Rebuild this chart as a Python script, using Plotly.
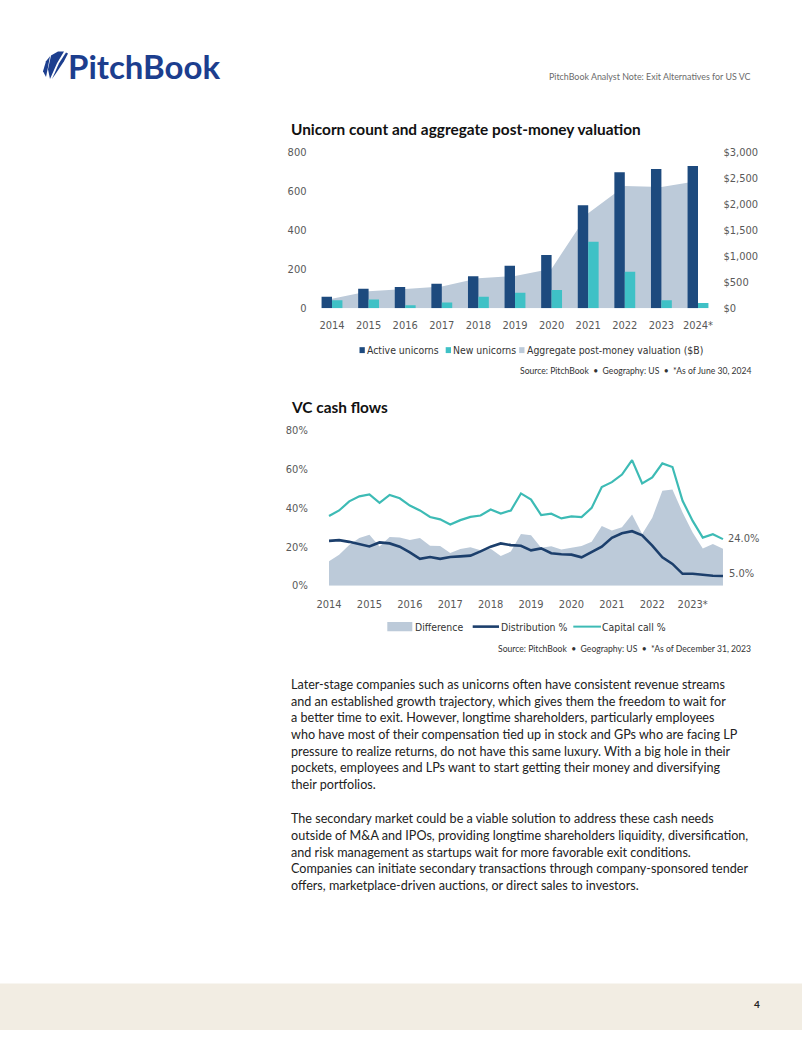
import plotly.graph_objects as go

W, H = 802, 1037

# ---------------- data ----------------
years = ['2014', '2015', '2016', '2017', '2018', '2019', '2020', '2021', '2022', '2023', '2024*']
active_unicorns = [59, 100, 108, 125, 164, 218, 272, 528, 697, 714, 729]
new_unicorns = [40, 44, 15, 29, 59, 79, 93, 341, 187, 40, 27]
valuation_b = [180, 323, 367, 418, 575, 620, 759, 1823, 2348, 2329, 2443]

left_ticks = [0, 200, 400, 600, 800]
right_ticks = [0, 500, 1000, 1500, 2000, 2500, 3000]
right_tick_text = ['$0', '$500', '$1,000', '$1,500', '$2,000', '$2,500', '$3,000']

quarters = list(range(40))  # 2014 Q1 .. 2023 Q4
capital_call = [35.9, 38.8, 43.5, 46.1, 47.1, 42.7, 46.8, 45.1, 41.3, 38.8,
                35.4, 34.2, 31.5, 33.8, 35.5, 36.2, 39.3, 37.2, 38.8, 47.6,
                44.4, 36.4, 37.1, 34.7, 35.7, 35.4, 40.1, 50.9, 53.4, 57.3,
                64.8, 52.7, 55.8, 63.1, 61.2, 43.8, 33.4, 24.8, 26.5, 24.0]
distribution = [23.1, 23.5, 22.6, 21.4, 20.2, 22.3, 21.8, 20.1, 17.2, 13.8,
                14.8, 13.8, 14.8, 15.1, 15.5, 17.7, 20.1, 21.8, 20.9, 20.6,
                18.2, 19.2, 16.7, 16.2, 16.0, 14.6, 17.5, 20.1, 24.7, 27.0,
                28.1, 26.0, 20.6, 14.6, 11.2, 6.1, 6.1, 5.6, 5.1, 5.0]
difference = [12.6, 16.0, 21.0, 24.6, 26.2, 20.2, 25.1, 24.8, 23.5, 24.6,
              20.6, 20.4, 16.8, 18.9, 19.8, 18.3, 19.0, 15.3, 17.6, 26.6,
              26.0, 19.5, 20.3, 18.6, 19.5, 20.5, 22.6, 30.8, 28.5, 30.1,
              36.7, 26.6, 35.0, 49.0, 49.6, 37.8, 27.4, 19.2, 21.5, 19.0]
cf_tick_vals = [0, 4, 8, 12, 16, 20, 24, 28, 32, 36]
cf_tick_text = ['2014', '2015', '2016', '2017', '2018', '2019', '2020', '2021', '2022', '2023*']
cf_y_ticks = [0, 20, 40, 60, 80]
cf_y_text = ['0%', '20%', '40%', '60%', '80%']

# ---------------- style ----------------
NAVY = '#1d4a7e'
TEAL = '#3fc1c6'
AREA = '#bccad9'
DIST = '#1c3f6c'
CCALL = '#3dbbb5'
GRAY = '#595959'
CHART_FONT = 'DejaVu Sans Condensed, Roboto, sans-serif'
TEXT_FONT = 'Lato, Open Sans, sans-serif'
CF = 11
LF = 10.4


def px(x):
    return x / W


def py(y):
    return 1 - y / H


fig = go.Figure()

# chart 1: area on primary (right) axis, bars on overlaying left axis
fig.add_trace(go.Scatter(x=years, y=valuation_b, mode='lines', line=dict(width=0, color=AREA),
                         fill='tozeroy', fillcolor=AREA, xaxis='x', yaxis='y',
                         name='Aggregate post-money valuation ($B)', hoverinfo='skip'))
fig.add_trace(go.Bar(x=years, y=active_unicorns, marker=dict(color=NAVY, line=dict(width=0)),
                     xaxis='x', yaxis='y2', name='Active unicorns'))
fig.add_trace(go.Bar(x=years, y=new_unicorns, marker=dict(color=TEAL, line=dict(width=0)),
                     xaxis='x', yaxis='y2', name='New unicorns'))

# chart 2
fig.add_trace(go.Scatter(x=quarters, y=difference, mode='lines', line=dict(width=0, color=AREA),
                         fill='tozeroy', fillcolor=AREA, xaxis='x2', yaxis='y3', name='Difference'))
fig.add_trace(go.Scatter(x=quarters, y=distribution, mode='lines', line=dict(width=2.6, color=DIST),
                         xaxis='x2', yaxis='y3', name='Distribution %'))
fig.add_trace(go.Scatter(x=quarters, y=capital_call, mode='lines', line=dict(width=2.2, color=CCALL),
                         xaxis='x2', yaxis='y3', name='Capital call %'))

tickfont = dict(family=CHART_FONT, size=CF, color=GRAY)

fig.update_layout(
    width=W, height=H, margin=dict(l=0, r=0, t=0, b=0),
    paper_bgcolor='white', plot_bgcolor='rgba(0,0,0,0)',
    showlegend=False, barmode='group', bargap=0.43, bargroupgap=0,
    xaxis=dict(domain=[px(313.7), px(716.3)], anchor='y', type='category',
               range=[-0.5, 10.5], showgrid=False, zeroline=False, showline=False,
               ticks='outside', ticklen=7, tickcolor='rgba(0,0,0,0)', tickfont=tickfont),
    yaxis=dict(domain=[py(306), py(148)], anchor='x', side='right', range=[0, 3000],
               tickvals=right_ticks, ticktext=right_tick_text, showgrid=False, zeroline=False,
               showline=False, ticks='outside', ticklen=4, tickcolor='rgba(0,0,0,0)', tickfont=tickfont),
    yaxis2=dict(overlaying='y', anchor='x', side='left', range=[0, 800], tickvals=left_ticks,
                showgrid=False, zeroline=False, showline=False, ticks='outside', ticklen=4,
                tickcolor='rgba(0,0,0,0)', tickfont=tickfont),
    xaxis2=dict(domain=[px(316), px(726)], anchor='y3', range=[-1.29, 39.3],
                tickvals=cf_tick_vals, ticktext=cf_tick_text, showgrid=False, zeroline=False,
                showline=False, ticks='outside', ticklen=8, tickcolor='rgba(0,0,0,0)', tickfont=tickfont),
    yaxis3=dict(domain=[py(587), py(430)], anchor='x2', range=[0, 80], tickvals=cf_y_ticks,
                ticktext=cf_y_text, showgrid=False, zeroline=False, showline=False,
                ticks='outside', ticklen=5, tickcolor='rgba(0,0,0,0)', tickfont=tickfont),
)

ann = []
shapes = []


def text(x, y, s, size, color='#222', family=TEXT_FONT, xanchor='left', weight=None):
    f = dict(family=family, size=size, color=color)
    if weight:
        f['weight'] = weight
    ann.append(dict(x=px(x), y=py(y), xref='paper', yref='paper', text=s, showarrow=False,
                    xanchor=xanchor, yanchor='middle', font=f, align=xanchor))


# header
text(753, 71, 'PitchBook Analyst Note: Exit Alternatives for US VC', 8.9, '#6b6b6b', xanchor='right')
text(66, 61, 'PitchBook', 33, '#1c3e8e', weight=700)


# logo icon (sails)
def path_px(points):
    return 'M ' + ' L '.join(f'{px(a):.5f},{py(b):.5f}' for a, b in points) + ' Z'


logo_color = '#1c3e8e'
shapes.append(dict(type='path', xref='paper', yref='paper', line=dict(width=0), fillcolor=logo_color,
                   path=path_px([(51, 50), (58, 46), (64, 46), (57, 58), (50, 74), (48, 64)])))
shapes.append(dict(type='path', xref='paper', yref='paper', line=dict(width=0), fillcolor=logo_color,
                   path=path_px([(43, 66), (46, 56), (50, 51), (48, 62), (46, 72)])))
shapes.append(dict(type='path', xref='paper', yref='paper', line=dict(width=0), fillcolor=logo_color,
                   path=path_px([(59, 58), (66, 47), (68, 48), (64, 56), (56, 68), (52, 74)])))

# chart 1 title
text(289, 125, 'Unicorn count and aggregate post-money valuation', 15.4, '#111', weight=700)

# chart 1 legend
leg_y = 348.5
for (sx, col, label) in [(359.5, NAVY, 'Active unicorns'), (445.7, TEAL, 'New unicorns'),
                         (519.2, AREA, 'Aggregate post-money valuation ($B)')]:
    shapes.append(dict(type='rect', xref='paper', yref='paper', x0=px(sx), x1=px(sx + 5.3),
                       y0=py(leg_y + 3), y1=py(leg_y - 3), fillcolor=col, line=dict(width=0)))
    text(sx + 5.3, leg_y, label, LF, '#333', family=CHART_FONT)

text(753, 370, 'Source: PitchBook  \u2022  Geography: US  \u2022  *As of June 30, 2024', 8.6, '#333', xanchor='right')

# chart 2 title
text(289, 406, 'VC cash flows', 15.4, '#111', weight=700)

# end labels
text(726, 539, '24.0%', CF, GRAY, family=CHART_FONT)
text(727, 575, '5.0%', CF, GRAY, family=CHART_FONT)

# chart 2 legend
leg2_y = 628.5
shapes.append(dict(type='rect', xref='paper', yref='paper', x0=px(387.3), x1=px(412.3),
                   y0=py(leg2_y + 4.7), y1=py(leg2_y - 4.7), fillcolor=AREA, line=dict(width=0)))
text(413.5, leg2_y, 'Difference', LF, '#333', family=CHART_FONT)
shapes.append(dict(type='line', xref='paper', yref='paper', x0=px(472.7), x1=px(499),
                   y0=py(leg2_y), y1=py(leg2_y), line=dict(color=DIST, width=2.6)))
text(498.5, leg2_y, 'Distribution %', LF, '#333', family=CHART_FONT)
shapes.append(dict(type='line', xref='paper', yref='paper', x0=px(573.3), x1=px(601),
                   y0=py(leg2_y), y1=py(leg2_y), line=dict(color=CCALL, width=2)))
text(600.2, leg2_y, 'Capital call %', LF, '#333', family=CHART_FONT)

text(753, 651, 'Source: PitchBook  \u2022  Geography: US  \u2022  *As of December 31, 2023', 8.6, '#333', xanchor='right')

# body text
para1 = [
    'Later-stage companies such as unicorns often have consistent revenue streams',
    'and an established growth trajectory, which gives them the freedom to wait for',
    'a better time to exit. However, longtime shareholders, particularly employees',
    'who have most of their compensation tied up in stock and GPs who are facing LP',
    'pressure to realize returns, do not have this same luxury. With a big hole in their',
    'pockets, employees and LPs want to start getting their money and diversifying',
    'their portfolios.',
]
para2 = [
    'The secondary market could be a viable solution to address these cash needs',
    'outside of M&amp;A and IPOs, providing longtime shareholders liquidity, diversification,',
    'and risk management as startups wait for more favorable exit conditions.',
    'Companies can initiate secondary transactions through company-sponsored tender',
    'offers, marketplace-driven auctions, or direct sales to investors.',
]
for i, line in enumerate(para1):
    text(289, 687 + i * 16.9, line, 12.6, '#222')
for i, line in enumerate(para2):
    text(289, 823 + i * 16.9, line, 12.6, '#222')

# footer band
shapes.append(dict(type='rect', xref='paper', yref='paper', x0=0, x1=1, y0=0, y1=py(990),
                   fillcolor='#f2ede3', line=dict(width=0), layer='below'))
text(752, 1011, '4', 10, '#222', weight=700)

fig.update_layout(annotations=ann, shapes=shapes)
fig.write_html('out.html')
